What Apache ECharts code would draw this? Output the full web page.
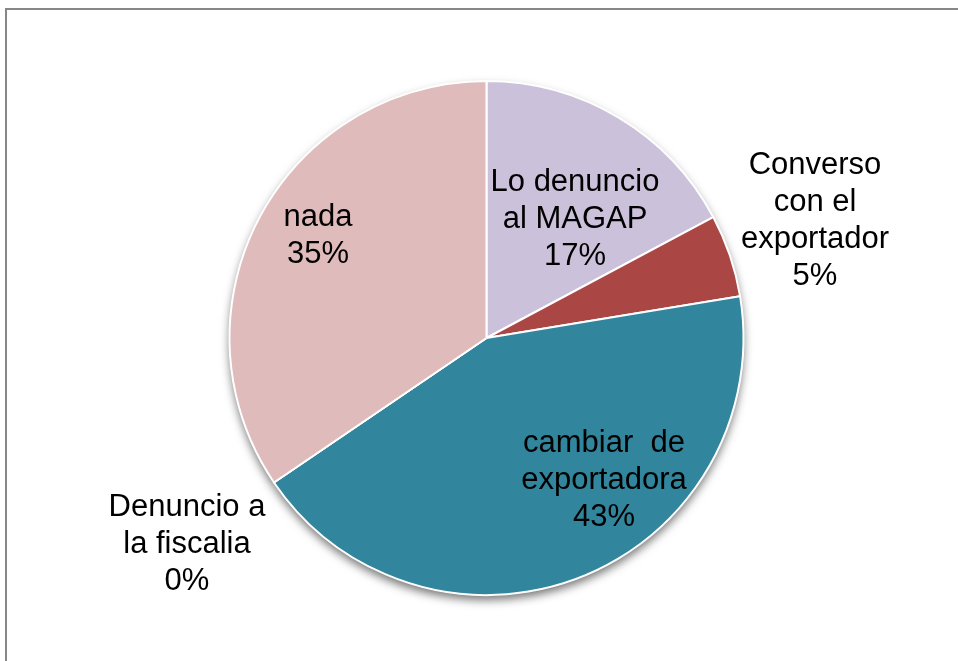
<!DOCTYPE html>
<html>
<head>
<meta charset="utf-8">
<script src="https://cdn.jsdelivr.net/npm/echarts@6/dist/echarts.min.js"></script>
<style>
html,body{margin:0;padding:0;background:#fff;}
#chart{width:958px;height:661px;}
</style>
</head>
<body>
<div id="chart"></div>
<script>
// Data (percent shares)
const categories = ['Lo denuncio\nal MAGAP', 'Converso\ncon el\nexportador', 'cambiar  de\nexportadora', 'Denuncio a\nla fiscalia', 'nada'];
const values = [17.2, 5.2, 43.1, 0, 34.5];

// Styling (kept separate from data)
const colors = ['#CCC1DA', '#AA4643', '#31859C', '#31859C', '#E0BBBB'];
const labelCenters = [[575, 219], [815, 221], [604, 480], [187, 544], [318, 236]];

const chart = echarts.init(document.getElementById('chart'), null, {renderer: 'canvas'});

const pieData = categories.map((c, i) => ({
  name: c,
  value: values[i],
  itemStyle: {color: colors[i]}
}));

chart.setOption({
  animation: false,
  backgroundColor: '#ffffff',
  graphic: [{
    type: 'rect',
    shape: {x: 6, y: 9, width: 1000, height: 700},
    style: {fill: 'none', stroke: '#878787', lineWidth: 2},
    z: 0
  }],
  series: [
    {
      type: 'pie',
      silent: true,
      center: [486.5, 338],
      radius: 257,
      startAngle: 90,
      z: 1,
      label: {show: false},
      labelLine: {show: false},
      itemStyle: {
        borderWidth: 0,
        shadowBlur: 10,
        shadowOffsetX: 0,
        shadowOffsetY: 5,
        shadowColor: 'rgba(0,0,0,0.55)'
      },
      data: categories.map((c, i) => ({name: c, value: values[i]}))
    },
    {
      type: 'pie',
      center: [486.5, 338],
      radius: 257,
      startAngle: 90,
      clockwise: true,
      z: 2,
      minShowLabelAngle: -1,
      itemStyle: {borderColor: '#ffffff', borderWidth: 2},
      label: {
        show: true,
        position: 'outside',
        color: '#000000',
        fontFamily: 'Liberation Sans, Arial, sans-serif',
        fontSize: 31,
        lineHeight: 37,
        align: 'center',
        formatter: p => p.name + '\n' + Math.round(p.percent) + '%'
      },
      labelLine: {show: false},
      labelLayout: p => ({
        x: labelCenters[p.dataIndex][0],
        y: labelCenters[p.dataIndex][1],
        align: 'center',
        verticalAlign: 'middle',
        hideOverlap: false
      }),
      data: pieData
    }
  ]
});
</script>
</body>
</html>
